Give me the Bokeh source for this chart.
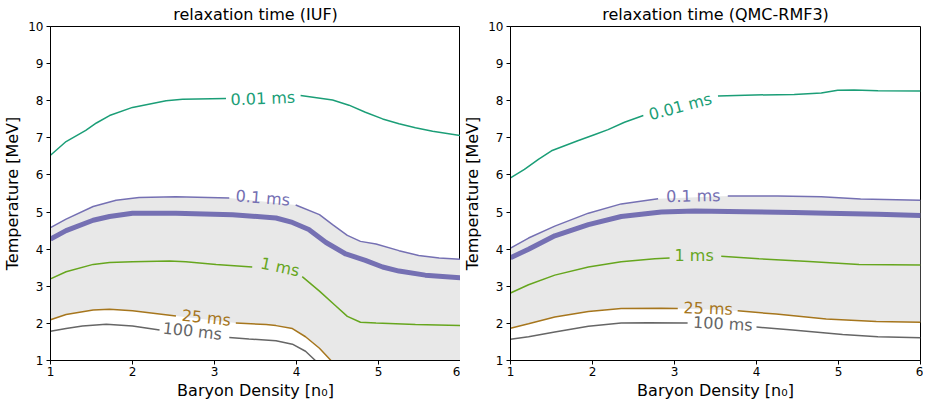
import numpy as np
from bokeh.plotting import figure
from bokeh.layouts import row
from bokeh.models import FixedTicker, ColumnDataSource, Title
from bokeh.core.properties import value
from bokeh.embed import file_html
from bokeh.resources import INLINE

nan = float("nan")

# ---------------- data: IUF (left) ----------------
L_x_001 = [1.0, 1.19, 1.43, 1.56, 1.72, 2.0, 2.41, 2.61, 3.14, nan, 4.05, 4.44, 4.64, 4.84, 5.05, 5.25, 5.45, 5.66, 6.0]
L_T_001 = [6.53, 6.9, 7.2, 7.4, 7.6, 7.82, 8.0, 8.04, 8.06, nan, 8.14, 8.02, 7.88, 7.69, 7.51, 7.38, 7.27, 7.18, 7.06]
L_x_01 = [1.0, 1.19, 1.52, 1.8, 2.08, 2.53, 3.18, nan, 3.99, 4.28, 4.44, 4.62, 4.78, 4.97, 5.25, 5.49, 5.74, 6.0]
L_T_01 = [4.58, 4.81, 5.15, 5.32, 5.39, 5.41, 5.38, nan, 5.19, 4.93, 4.66, 4.37, 4.21, 4.14, 3.96, 3.83, 3.76, 3.73]
L_x_thick = [1.0, 1.19, 1.52, 1.72, 2.0, 2.53, 3.22, 3.75, 3.95, 4.15, 4.36, 4.6, 4.84, 5.05, 5.25, 5.57, 6.0]
L_T_thick = [4.27, 4.5, 4.78, 4.88, 4.97, 4.97, 4.93, 4.84, 4.72, 4.53, 4.18, 3.87, 3.7, 3.52, 3.41, 3.3, 3.23]
L_x_1 = [1.0, 1.19, 1.52, 1.72, 2.0, 2.45, 2.65, 3.02, 3.46, nan, 4.07, 4.28, 4.48, 4.62, 4.78, 4.97, 5.45, 6.0]
L_T_1 = [3.2, 3.39, 3.59, 3.64, 3.66, 3.68, 3.66, 3.59, 3.52, nan, 3.26, 2.87, 2.47, 2.19, 2.03, 2.01, 1.97, 1.94]
L_x_25 = [1.0, 1.19, 1.52, 1.72, 2.0, 2.53, nan, 3.26, 3.63, 3.75, 3.95, 4.11, 4.28, 4.42]
L_T_25 = [2.1, 2.24, 2.36, 2.38, 2.34, 2.2, nan, 2.01, 1.97, 1.94, 1.86, 1.64, 1.33, 1.0]
L_x_100 = [1.0, 1.19, 1.39, 1.68, 2.0, 2.33, nan, 3.18, 3.42, 3.75, 3.95, 4.11, 4.23]
L_T_100 = [1.79, 1.86, 1.93, 1.98, 1.93, 1.82, nan, 1.62, 1.58, 1.53, 1.44, 1.25, 1.0]

# ---------------- data: QMC-RMF3 (right) ----------------
R_x_001 = [1.0, 1.17, 1.34, 1.5, 1.82, 2.03, 2.19, 2.39, 2.62, nan, 3.53, 3.86, 4.46, 4.79, 4.99, 5.19, 5.48, 6.0]
R_T_001 = [5.92, 6.15, 6.42, 6.65, 6.92, 7.09, 7.22, 7.42, 7.6, nan, 8.13, 8.15, 8.17, 8.21, 8.28, 8.29, 8.27, 8.26]
R_x_01 = [1.0, 1.22, 1.54, 1.95, 2.35, 2.8, nan, 3.65, 4.26, 4.79, 5.27, 6.0]
R_T_01 = [4.03, 4.3, 4.62, 4.97, 5.22, 5.36, nan, 5.43, 5.43, 5.41, 5.35, 5.32]
R_x_thick = [1.0, 1.22, 1.54, 1.95, 2.35, 2.84, 3.25, 3.86, 4.46, 4.87, 5.48, 6.0]
R_T_thick = [3.77, 4.0, 4.36, 4.66, 4.88, 5.0, 5.03, 5.01, 4.99, 4.97, 4.94, 4.91]
R_x_1 = [1.0, 1.22, 1.54, 1.95, 2.35, 2.76, 2.94, nan, 3.57, 4.03, 4.64, 5.25, 6.0]
R_T_1 = [2.82, 3.04, 3.3, 3.52, 3.66, 3.74, 3.76, nan, 3.81, 3.74, 3.67, 3.59, 3.57]
R_x_25 = [1.0, 1.22, 1.54, 1.95, 2.35, 2.84, 3.04, nan, 3.77, 4.24, 4.85, 5.46, 6.0]
R_T_25 = [1.87, 1.99, 2.17, 2.32, 2.4, 2.41, 2.4, nan, 2.34, 2.25, 2.12, 2.05, 2.03]
R_x_100 = [1.0, 1.22, 1.54, 1.95, 2.35, 2.68, 3.16, nan, 4.0, 4.44, 5.05, 5.48, 6.0]
R_T_100 = [1.57, 1.64, 1.77, 1.92, 2.01, 2.02, 2.01, nan, 1.9, 1.82, 1.7, 1.64, 1.61]

# contour labels: text, x, T, angle (deg)
level_labels = ["0.01 ms", "0.1 ms", "1 ms", "25 ms", "100 ms"]
L_lab_x = [3.59, 3.59, 3.80, 2.90, 2.73]
L_lab_T = [8.06, 5.38, 3.52, 2.15, 1.79]
L_lab_ang = [2.3, -4.5, -12.0, -5.8, -6.3]
R_lab_x = [3.07, 3.23, 3.24, 3.41, 3.59]
R_lab_T = [7.84, 5.43, 3.83, 2.40, 1.99]
R_lab_ang = [15.0, 1.0, 0.0, -2.0, -3.0]

x_ticks = [1, 2, 3, 4, 5, 6]
T_ticks = [1, 2, 3, 4, 5, 6, 7, 8, 9, 10]
x_range = (1, 6)
T_range = (1, 10)

colors = ["#1b9e77", "#7570b3", "#66a61e", "#a6761d", "#666666"]
thick_color = "#7570b3"
fill_color = "#e8e8e8"
FONT = "DejaVu Sans"


def clean(xs, ys):
    return [a for a, b in zip(xs, ys) if a == a], [b for a, b in zip(xs, ys) if a == a]


def make_panel(title, curves, thick, lab_x, lab_T, lab_ang, mbl, mbr):
    t = Title(text=title, text_font=FONT, text_font_size="16px", text_font_style="normal",
              text_color="black", align="center", standoff=5)
    p = figure(frame_width=410, frame_height=334, title=t, x_range=x_range, y_range=T_range,
               output_backend="svg", toolbar_location=None,
               min_border_left=mbl, min_border_right=mbr, min_border_top=0, min_border_bottom=0)
    p.grid.visible = False
    p.outline_line_color = "black"
    p.outline_line_width = 1
    p.background_fill_color = "white"
    p.border_fill_color = "white"
    for ax in (p.xaxis, p.yaxis):
        ax.major_label_text_font = FONT
        ax.major_label_text_font_size = "12px"
        ax.major_label_text_color = "black"
        ax.axis_label_text_font = FONT
        ax.axis_label_text_font_size = "16px"
        ax.axis_label_text_font_style = "normal"
        ax.axis_label_text_color = "black"
        ax.minor_tick_line_color = None
        ax.major_tick_in = 0
        ax.major_tick_out = 4
        ax.axis_line_color = "black"
        ax.major_tick_line_color = "black"
    p.xaxis.major_label_standoff = 2
    p.xaxis.axis_label_standoff = 2
    p.yaxis.major_label_standoff = 3
    p.yaxis.axis_label_standoff = 3
    p.xaxis.ticker = FixedTicker(ticks=x_ticks)
    p.yaxis.ticker = FixedTicker(ticks=T_ticks)
    p.xaxis.axis_label = "Baryon Density [n\u2080]"
    p.yaxis.axis_label = "Temperature [MeV]"

    # grey band between the 0.1 ms and 25 ms contours
    ux, uy = clean(*curves[1])
    lx, ly = clean(*curves[3])
    if lx[-1] >= x_range[1]:
        px = ux + lx[::-1]
        py = uy + ly[::-1]
    else:
        px = ux + [x_range[1]] + lx[::-1]
        py = uy + [T_range[0]] + ly[::-1]
    p.patch(px, py, fill_color=fill_color, line_color=None)

    p.line(thick[0], thick[1], line_color=thick_color, line_width=5)
    for (xs, ys), c in zip(curves, colors):
        p.line(xs, ys, line_color=c, line_width=1.5)

    src = ColumnDataSource(dict(x=lab_x, y=lab_T, t=level_labels, c=colors,
                                a=[np.deg2rad(a) for a in lab_ang]))
    p.text(x="x", y="y", text="t", angle="a", text_color="c", source=src,
           text_font=value(FONT), text_font_size="16px",
           text_align="center", text_baseline="middle")
    return p


p1 = make_panel("relaxation time (IUF)",
                [(L_x_001, L_T_001), (L_x_01, L_T_01), (L_x_1, L_T_1), (L_x_25, L_T_25), (L_x_100, L_T_100)],
                (L_x_thick, L_T_thick), L_lab_x, L_lab_T, L_lab_ang, 43, 0)
p2 = make_panel("relaxation time (QMC-RMF3)",
                [(R_x_001, R_T_001), (R_x_01, R_T_01), (R_x_1, R_T_1), (R_x_25, R_T_25), (R_x_100, R_T_100)],
                (R_x_thick, R_T_thick), R_lab_x, R_lab_T, R_lab_ang, 39, 3)

layout = row(p1, p2)
open("out.html", "w").write(file_html(layout, INLINE))
